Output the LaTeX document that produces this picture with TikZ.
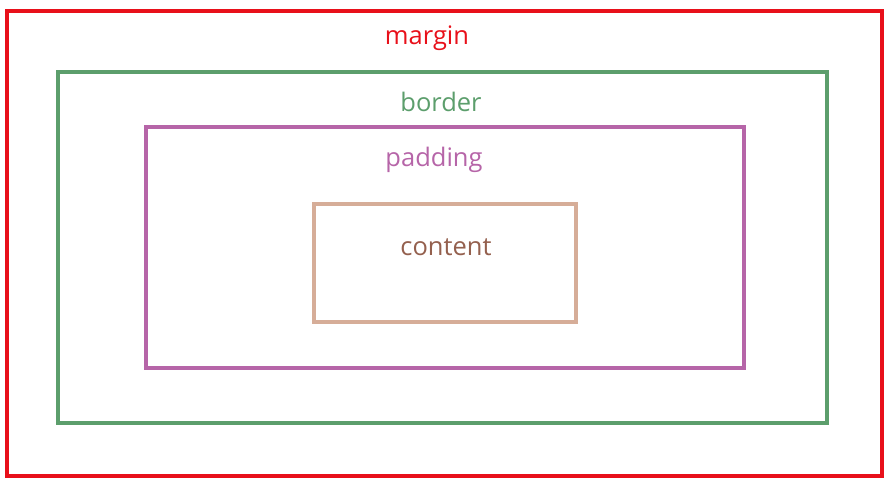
\documentclass[tikz,border=0pt]{standalone}
\usepackage{fontspec}
\setmainfont{Open Sans}
\definecolor{cmargin}{HTML}{E8101A}
\definecolor{cborder}{HTML}{5C9E6C}
\definecolor{cpadding}{HTML}{B665A8}
\definecolor{ccontentbox}{HTML}{D6AD98}
\definecolor{ccontenttext}{HTML}{94604E}
\begin{document}
\begin{tikzpicture}[x=1pt,y=-1pt,
  boxline/.style={line width=3.6pt},
  lbl/.style={font=\fontsize{25.5}{28}\selectfont, inner sep=0pt}]
\useasboundingbox (0,0) rectangle (890,481);
\draw[boxline, cmargin] (7,11) rectangle (882,476);
\draw[boxline, cborder] (58,72) rectangle (827,423);
\draw[boxline, cpadding] (146,127) rectangle (744,368);
\draw[boxline, ccontentbox] (314,204) rectangle (576,322);
\node[lbl, text=cmargin] (lmargin) at (427,38) {margin};
\node[lbl, text=cborder] (lborder) at (441,102) {border};
\node[lbl, text=cpadding] (lpadding) at (434,160) {padding};
\node[lbl, text=ccontenttext] (lcontent) at (446,247) {content};
\end{tikzpicture}
\end{document}
